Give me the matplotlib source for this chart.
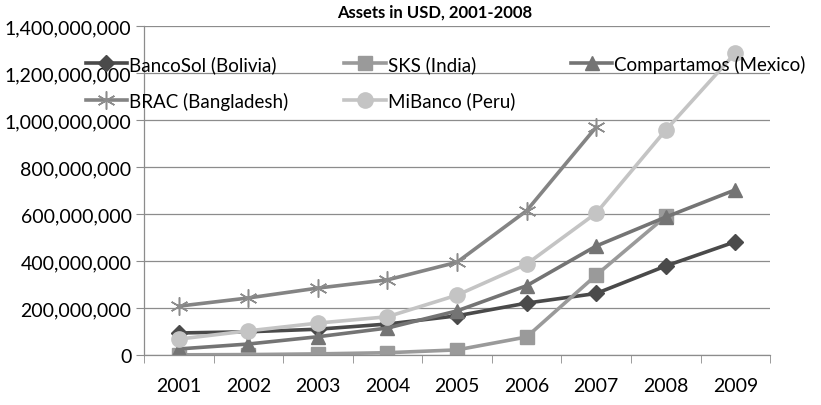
import numpy as np
import matplotlib.pyplot as plt
from matplotlib.ticker import FuncFormatter, FixedLocator

plt.rcParams['font.family'] = ['Lato', 'DejaVu Sans']

years = ["2001", "2002", "2003", "2004", "2005", "2006", "2007", "2008", "2009"]

# assets in USD (None = no data)
bancosol = [94e6, 99e6, 110e6, 132e6, 167e6, 221e6, 262e6, 379e6, 482e6]
sks = [1e6, 2e6, 5e6, 10e6, 22e6, 77e6, 340e6, 590e6, None]
compartamos = [26e6, 47e6, 78e6, 115e6, 188e6, 295e6, 464e6, 587e6, 703e6]
brac = [208e6, 243e6, 285e6, 320e6, 395e6, 614e6, 970e6, None, None]
mibanco = [68e6, 103e6, 136e6, 163e6, 255e6, 387e6, 604e6, 957e6, 1285e6]

series = [
    ("BancoSol (Bolivia)", bancosol, "#4a4a4a", "D", 8),
    ("SKS (India)", sks, "#9a9a9a", "s", 10),
    ("Compartamos (Mexico)", compartamos, "#747474", "^", 10),
    ("BRAC (Bangladesh)", brac, "#848484", (6, 2, 0), 13),
    ("MiBanco (Peru)", mibanco, "#c4c4c4", "o", 11),
]

fig = plt.figure(figsize=(8.21, 4.06), dpi=100)
ax = fig.add_axes([0.1754, 0.123, 0.938 - 0.1754, 0.9335 - 0.123])

x = np.arange(len(years))
handles = []
for name, vals, col, mk, ms in series:
    v = np.array([np.nan if a is None else a for a in vals], dtype=float)
    kw = dict(color=col, lw=2.6, marker=mk, markersize=ms, label=name,
              markerfacecolor=col, markeredgecolor=col)
    if mk == (6, 2, 0):
        kw["markeredgewidth"] = 1.1
        kw["markeredgecolor"] = "#8c8c8c"
    h, = ax.plot(x, v, **kw)
    handles.append(h)

ax.set_xlim(-0.5, len(years) - 0.5)
ax.set_ylim(0, 1.4e9)
ax.yaxis.set_major_locator(FixedLocator(np.arange(0, 1.41e9, 2e8)))
ax.yaxis.set_major_formatter(FuncFormatter(lambda v, p: f"{int(v):,}"))
ax.grid(axis="y", color="#8c8c8c", lw=0.9)
ax.set_axisbelow(True)

ax.set_xticks(x)
ax.set_xticklabels(years)
ax.set_xticks(np.arange(-0.5, len(years)), minor=True)
ax.tick_params(axis="x", which="major", length=0, pad=16, labelsize=14)
ax.tick_params(axis="x", which="minor", length=6, color="#8c8c8c", direction="out")
ax.tick_params(axis="y", length=6, color="#8c8c8c", labelsize=14, pad=3)

for s in ["top", "right"]:
    ax.spines[s].set_visible(False)
for s in ["left", "bottom"]:
    ax.spines[s].set_color("#8c8c8c")
    ax.spines[s].set_linewidth(0.9)

fig.text(0.53, 0.97, "Assets in USD, 2001-2008", ha="center", va="center",
         fontsize=12, fontweight="bold")

# row-wise order like the original: matplotlib fills legend columns first
order = [0, 3, 1, 4, 2]
ax.legend([handles[i] for i in order], [series[i][0] for i in order],
          loc="upper left", bbox_to_anchor=(-0.105, 0.935), ncol=3, frameon=False,
          fontsize=13.5, handlelength=2.2, handletextpad=0.1, columnspacing=3.0,
          labelspacing=1.0, borderaxespad=0)

fig.savefig("out.png", dpi=100)
